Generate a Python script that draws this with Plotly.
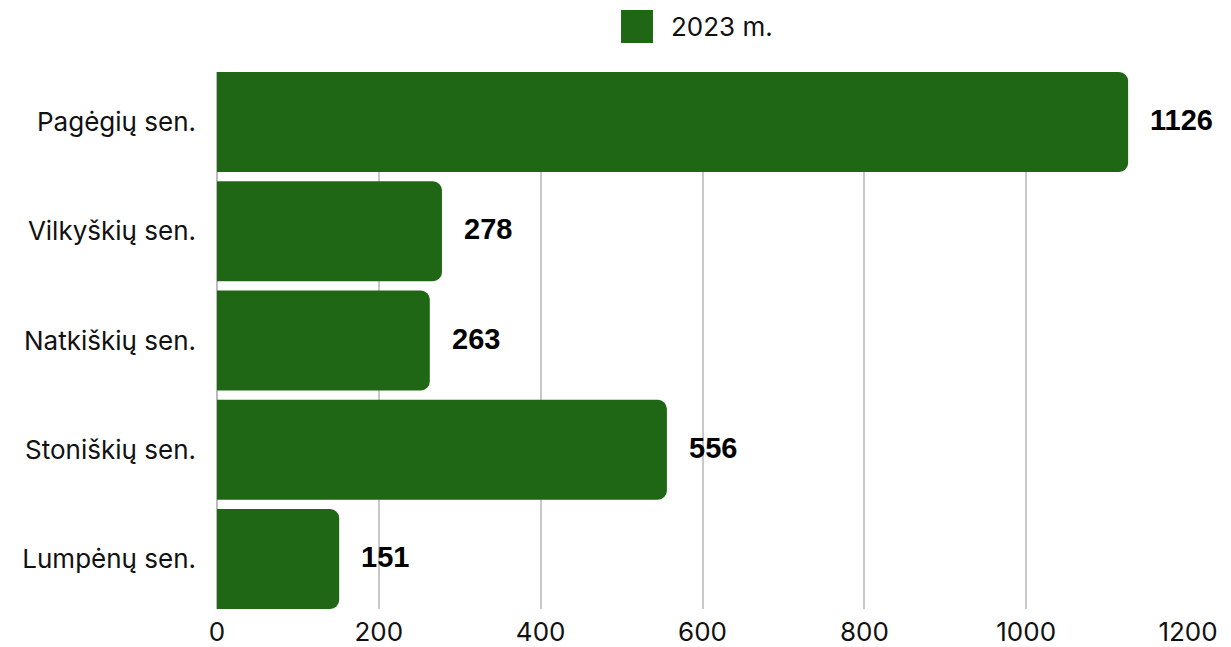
import plotly.graph_objects as go

categories = ["Pagėgių sen.", "Vilkyškių sen.", "Natkiškių sen.", "Stoniškių sen.", "Lumpėnų sen."]
values_2023 = [1126, 278, 263, 556, 151]
series_name = "2023 m."
x_ticks = [0, 200, 400, 600, 800, 1000, 1200]

BAR_COLOR = "#1F6715"
TICK_FONT = dict(family="Inter, Open Sans, sans-serif", size=26, color="#111111")
LABEL_FONT = dict(family="Liberation Sans, Arial, sans-serif", size=29, color="#000000")

fig = go.Figure()
fig.add_trace(go.Bar(
    y=categories,
    x=values_2023,
    orientation="h",
    name=series_name,
    marker=dict(color=BAR_COLOR, line=dict(width=0)),
    showlegend=False,
))

for cat, val in zip(categories, values_2023):
    fig.add_annotation(
        x=val, y=cat, xref="x", yref="y",
        text=f"<b>{val}</b>", showarrow=False,
        xanchor="left", yanchor="middle", xshift=20, yshift=2,
        font=LABEL_FONT,
    )

# legend drawn as shape + text (large square swatch)
fig.add_shape(type="rect", xref="paper", yref="paper",
              x0=0.4161, x1=0.449, y0=1.054, y1=1.1155,
              fillcolor=BAR_COLOR, line=dict(width=0))
fig.add_annotation(x=0.4655, y=1.0838, xref="paper", yref="paper",
                   text=series_name, showarrow=False,
                   xanchor="left", yanchor="middle", font=TICK_FONT)

w = 0.4577
fig.update_layout(
    width=1231, height=647,
    margin=dict(l=217, r=43, t=72, b=38, autoexpand=False),
    paper_bgcolor="white", plot_bgcolor="white",
    bargap=1 - 2 * w,
    barcornerradius=9,
    xaxis=dict(
        range=[0, 1200], tickvals=x_ticks,
        showgrid=True, gridcolor="#C8C8C8", gridwidth=1.6,
        zeroline=True, zerolinecolor="#BBBBBB", zerolinewidth=1.6,
        showline=False, ticks="", tickfont=TICK_FONT,
        ticklabelstandoff=5,
    ),
    yaxis=dict(
        type="category", categoryorder="array", categoryarray=categories,
        range=[len(categories) - 1 + w, -w],
        showgrid=False, zeroline=False, showline=False, ticks="",
        tickfont=TICK_FONT, ticklabelstandoff=20,
    ),
)

fig.write_html("out.html", config={"displayModeBar": False},
               post_script="document.body.style.margin='0';document.body.style.padding='0';")
